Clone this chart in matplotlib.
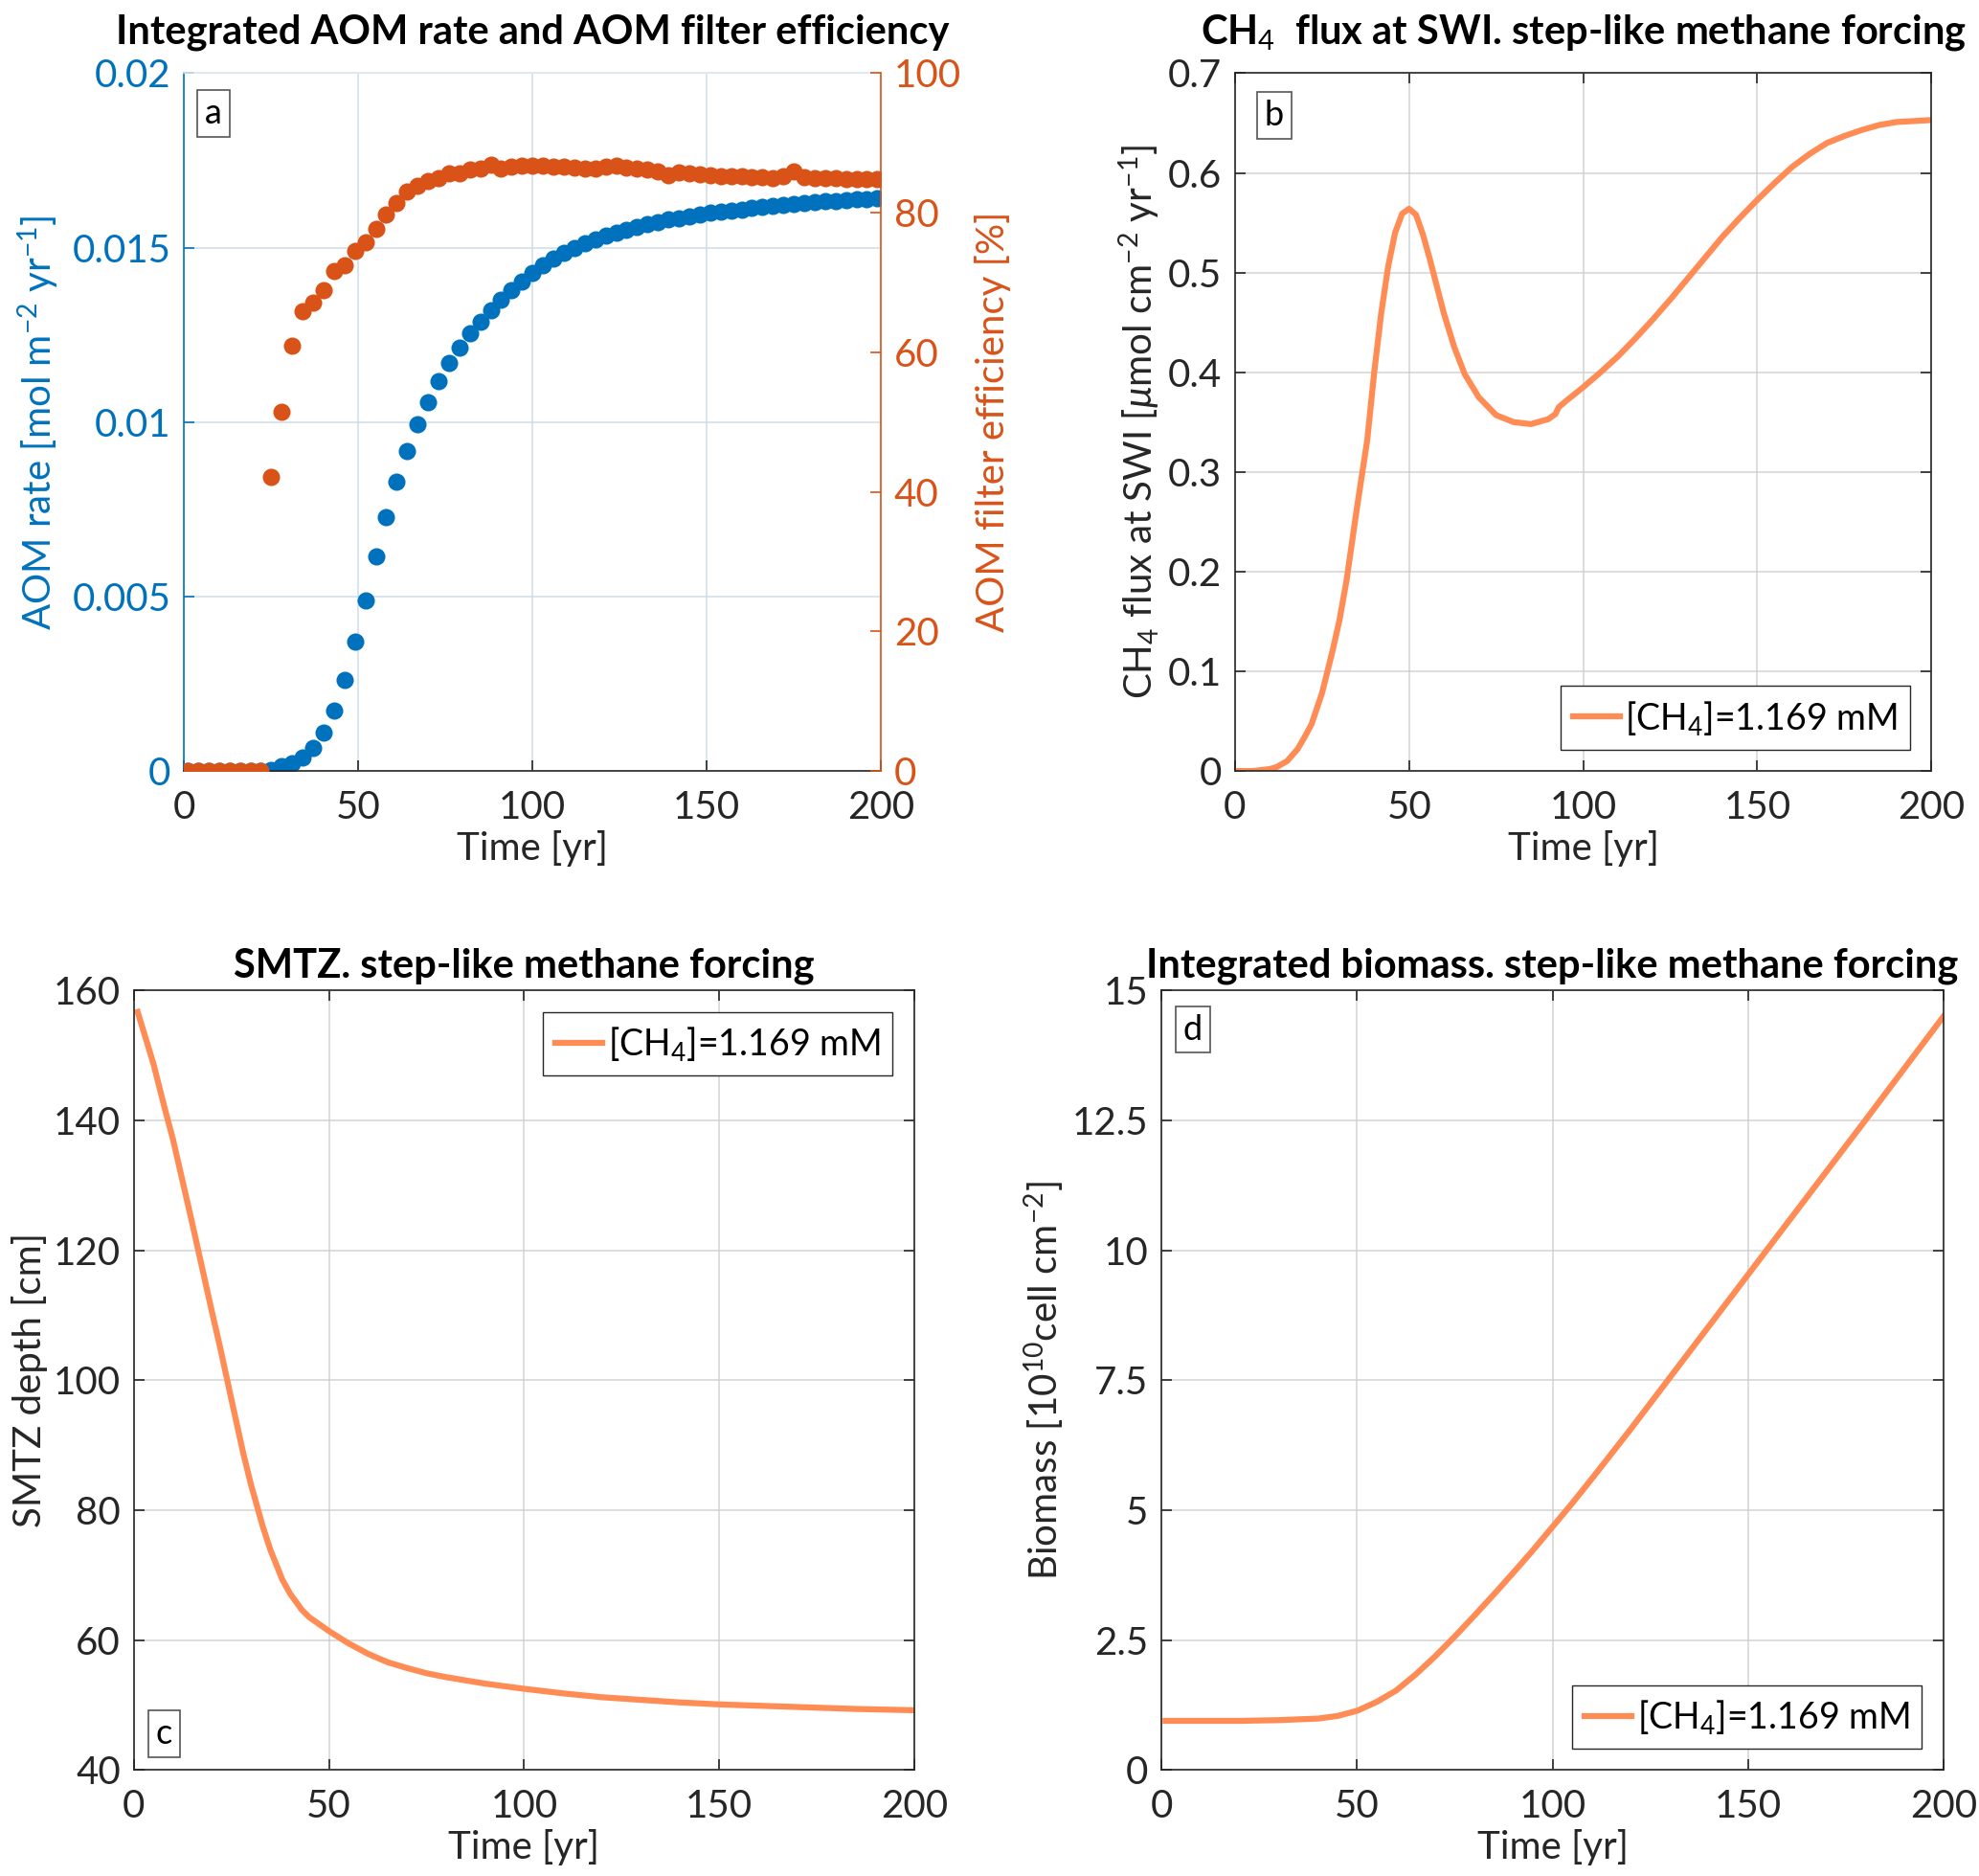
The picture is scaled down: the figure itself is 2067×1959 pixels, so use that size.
import numpy as np
import matplotlib.pyplot as plt

plt.rcParams['font.family'] = ['Lato', 'DejaVu Sans']
plt.rcParams['mathtext.fontset'] = 'custom'
plt.rcParams['mathtext.rm'] = 'Lato'
plt.rcParams['mathtext.it'] = 'Lato:italic'
plt.rcParams['mathtext.bf'] = 'Lato:bold'

# panel a: sampled every 3 years
time_a = np.arange(1, 200, 3)
aom_rate = [0, 0, 0, 0, 0, 0, 0, 0,
            0.00003, 0.00014, 0.00023, 0.00038, 0.00067, 0.0011, 0.00173, 0.0026,
            0.0037, 0.0049, 0.00614, 0.00728, 0.0083, 0.00918, 0.00993, 0.01058,
            0.01117, 0.01169, 0.01214, 0.01254, 0.01287, 0.0132, 0.0135, 0.01378,
            0.01404, 0.01428, 0.01449, 0.01468, 0.01486, 0.015, 0.01513, 0.01524,
            0.01535, 0.01544, 0.01552, 0.0156, 0.01567, 0.01574, 0.0158, 0.01585,
            0.0159, 0.01595, 0.016, 0.01604, 0.01607, 0.0161, 0.01613, 0.01616,
            0.01619, 0.01622, 0.01625, 0.01627, 0.0163, 0.01632, 0.01634, 0.01636,
            0.01638, 0.0164, 0.01642]
aom_eff = [0, 0, 0, 0, 0, 0, 0, 0,
           42.1, 51.5, 61.0, 65.9, 67.1, 68.9, 71.6, 72.5,
           74.6, 75.8, 77.7, 79.8, 81.4, 83.0, 83.8, 84.5,
           84.9, 85.7, 85.6, 86.2, 86.4, 86.9, 86.3, 86.6,
           86.7, 86.8, 86.7, 86.6, 86.6, 86.5, 86.4, 86.3,
           86.6, 86.8, 86.5, 86.4, 86.2, 85.9, 85.4, 85.8,
           85.6, 85.5, 85.4, 85.2, 85.3, 85.2, 85.1, 85.1,
           85.0, 85.2, 85.9, 85.1, 84.9, 84.9, 84.9, 84.8,
           84.8, 84.8, 84.8]

# panel b
time_b = [1, 5, 10, 12, 15, 18, 20, 22, 25, 28, 30, 32, 35, 38, 40, 42, 44, 46, 48,
          50, 52, 54, 56, 58, 60, 63, 66, 70, 75, 80, 85, 90, 92, 93, 95, 100,
          105, 110, 115, 120, 125, 130, 135, 140, 145, 150, 155, 160, 165, 170,
          175, 180, 185, 190, 195, 200]
ch4_flux = [0, 0, 0.002, 0.004, 0.010, 0.022, 0.034, 0.047, 0.078, 0.12, 0.151, 0.19,
            0.263, 0.332, 0.40, 0.459, 0.506, 0.54, 0.559,
            0.564, 0.558, 0.538, 0.513, 0.486, 0.459, 0.425, 0.398, 0.375, 0.357, 0.35,
            0.348, 0.353, 0.358, 0.365, 0.371, 0.385,
            0.40, 0.416, 0.434, 0.453, 0.473, 0.494, 0.515, 0.536, 0.555, 0.573, 0.59,
            0.606, 0.619, 0.63, 0.637, 0.643, 0.648, 0.651, 0.652, 0.653]

# panel c
time_c = [1, 5, 8, 10, 15, 20, 22, 25, 28, 30, 33, 35, 38, 40, 43, 45, 50, 55, 60, 65,
          70, 75, 80, 85, 90, 95, 100, 110, 120, 130, 140, 150, 160, 175, 185, 200]
smtz = [156.7, 148.8, 141.7, 137.2, 124.1, 110.6, 105.4, 97.1, 88.9, 84.0, 77.6, 73.9,
        69.4, 67.2, 64.7, 63.5, 61.4, 59.5, 57.9, 56.6, 55.7, 54.9, 54.3, 53.8, 53.3,
        52.9, 52.5, 51.8, 51.2, 50.8, 50.4, 50.1, 49.9, 49.6, 49.4, 49.2]

# panel d
time_d = [1, 10, 20, 30, 40, 45, 50, 55, 60, 65, 70, 75, 80, 85, 90, 95, 100, 105,
          110, 120, 130, 140, 150, 160, 170, 180, 190, 200]
biomass = [0.946, 0.946, 0.946, 0.96, 0.99, 1.04, 1.14, 1.31, 1.53, 1.84, 2.19, 2.57,
           2.97, 3.38, 3.80, 4.23, 4.68, 5.13, 5.60, 6.56, 7.55, 8.54, 9.53, 10.52,
           11.51, 12.5, 13.5, 14.5]

blue = '#0072BD'
red = '#D95319'
line_c = '#FF8C55'
dark = '#262626'
fs = 29
tfs = 30
leg_label = r'[CH$_4$]=1.169 mM'

fig = plt.figure(figsize=(20.67, 19.59), dpi=100)


def style(ax, ylim, yticks, yticklabels=None):
    ax.set_xlim(0, 200)
    ax.set_xticks([0, 50, 100, 150, 200])
    ax.set_ylim(*ylim)
    ax.set_yticks(yticks)
    if yticklabels is not None:
        ax.set_yticklabels(yticklabels)
    ax.grid(True, color='#cccccc', lw=1.2, alpha=0.8)
    ax.set_axisbelow(True)
    ax.tick_params(direction='in', length=8, width=1.2, labelsize=fs, colors=dark,
                   top=True, right=True, pad=10)
    ax.tick_params(axis='x', pad=14)
    for s in ax.spines.values():
        s.set_color(dark)
        s.set_linewidth(1.2)
    ax.set_xlabel('Time [yr]', fontsize=fs, color=dark, labelpad=4)


def tag(ax, letter, x, y):
    ax.text(x, y, letter, transform=ax.transAxes, fontsize=26, ha='center', va='center',
            bbox=dict(boxstyle='square,pad=0.22', fc='white', ec='#555555', lw=1.2))


def legend(ax, loc):
    ax.legend(loc=loc, fontsize=27, frameon=True, fancybox=False, framealpha=1,
              edgecolor=dark, handlelength=1.3, handletextpad=0.15, borderaxespad=0.6,
              borderpad=0.35)


# a
ax = fig.add_axes([0.0931, 0.589, 0.352, 0.372])
ax.plot(time_a, aom_rate, 'o', color=blue, ms=13, mec='none')
ax.set_xlim(0, 200)
ax.set_xticks([0, 50, 100, 150, 200])
ax.set_ylim(0, 0.02)
ax.set_yticks([0, 0.005, 0.01, 0.015, 0.02])
ax.set_yticklabels(['0', '0.005', '0.01', '0.015', '0.02'])
ax.grid(True, color='#c5d8e8', lw=1.2, alpha=0.8)
ax.set_axisbelow(True)
ax.tick_params(axis='x', direction='in', length=8, width=1.2, labelsize=fs, colors=dark, pad=14)
ax.tick_params(axis='y', direction='in', length=8, width=1.2, labelsize=fs, colors=blue, pad=10)
ax.spines['left'].set_color(blue)
ax.spines['bottom'].set_color(dark)
ax.spines['top'].set_color('#dce8f2')
ax.spines['right'].set_visible(False)
for s in ax.spines.values():
    s.set_linewidth(1.2)
ax.set_xlabel('Time [yr]', fontsize=fs, color=dark, labelpad=4)
ax.set_ylabel(r'AOM rate [mol m$^{-2}$ yr$^{-1}$]', fontsize=fs, color=blue, labelpad=8)
ax.set_title('Integrated AOM rate and AOM filter efficiency', fontsize=tfs,
             fontweight='bold', pad=22)
tag(ax, 'a', 0.042, 0.942)

ax2 = ax.twinx()
ax2.plot(time_a, aom_eff, 'o', color=red, ms=13, mec='none')
ax2.set_ylim(0, 100)
ax2.set_yticks([0, 20, 40, 60, 80, 100])
ax2.tick_params(axis='y', direction='in', length=8, width=1.2, labelsize=fs, colors=red, pad=10)
ax2.spines['right'].set_color(red)
ax2.spines['right'].set_linewidth(1.2)
for k in ['left', 'top', 'bottom']:
    ax2.spines[k].set_visible(False)
ax2.set_ylabel('AOM filter efficiency [%]', fontsize=fs, color=red, labelpad=10)

# b
ax = fig.add_axes([0.624, 0.589, 0.352, 0.372])
ax.plot(time_b, ch4_flux, color=line_c, lw=4.5, label=leg_label)
style(ax, (0, 0.7), [0, 0.1, 0.2, 0.3, 0.4, 0.5, 0.6, 0.7],
      ['0', '0.1', '0.2', '0.3', '0.4', '0.5', '0.6', '0.7'])
ax.set_ylabel(r'CH$_4$ flux at SWI [$\mu$mol cm$^{-2}$ yr$^{-1}$]', fontsize=fs, color=dark)
ax.set_title(r'CH$_4$  flux at SWI. step-like methane forcing', fontsize=tfs,
             fontweight='bold', pad=22)
legend(ax, 'lower right')
tag(ax, 'b', 0.056, 0.939)

# c
ax = fig.add_axes([0.0676, 0.0565, 0.3944, 0.4155])
ax.plot(time_c, smtz, color=line_c, lw=4.5, label=leg_label)
style(ax, (40, 160), [40, 60, 80, 100, 120, 140, 160])
ax.set_ylabel('SMTZ depth [cm]', fontsize=fs, color=dark)
ax.set_title('SMTZ. step-like methane forcing', fontsize=tfs, fontweight='bold', pad=10)
legend(ax, 'upper right')
tag(ax, 'c', 0.039, 0.047)

# d
ax = fig.add_axes([0.587, 0.0565, 0.395, 0.4155])
ax.plot(time_d, biomass, color=line_c, lw=4.5, label=leg_label)
style(ax, (0, 15), [0, 2.5, 5, 7.5, 10, 12.5, 15], ['0', '2.5', '5', '7.5', '10', '12.5', '15'])
ax.set_ylabel(r'Biomass [10$^{10}$cell cm$^{-2}$]', fontsize=fs, color=dark)
ax.set_title('Integrated biomass. step-like methane forcing', fontsize=tfs,
             fontweight='bold', pad=10)
legend(ax, 'lower right')
tag(ax, 'd', 0.040, 0.95)

fig.savefig('out.png', dpi=100)
